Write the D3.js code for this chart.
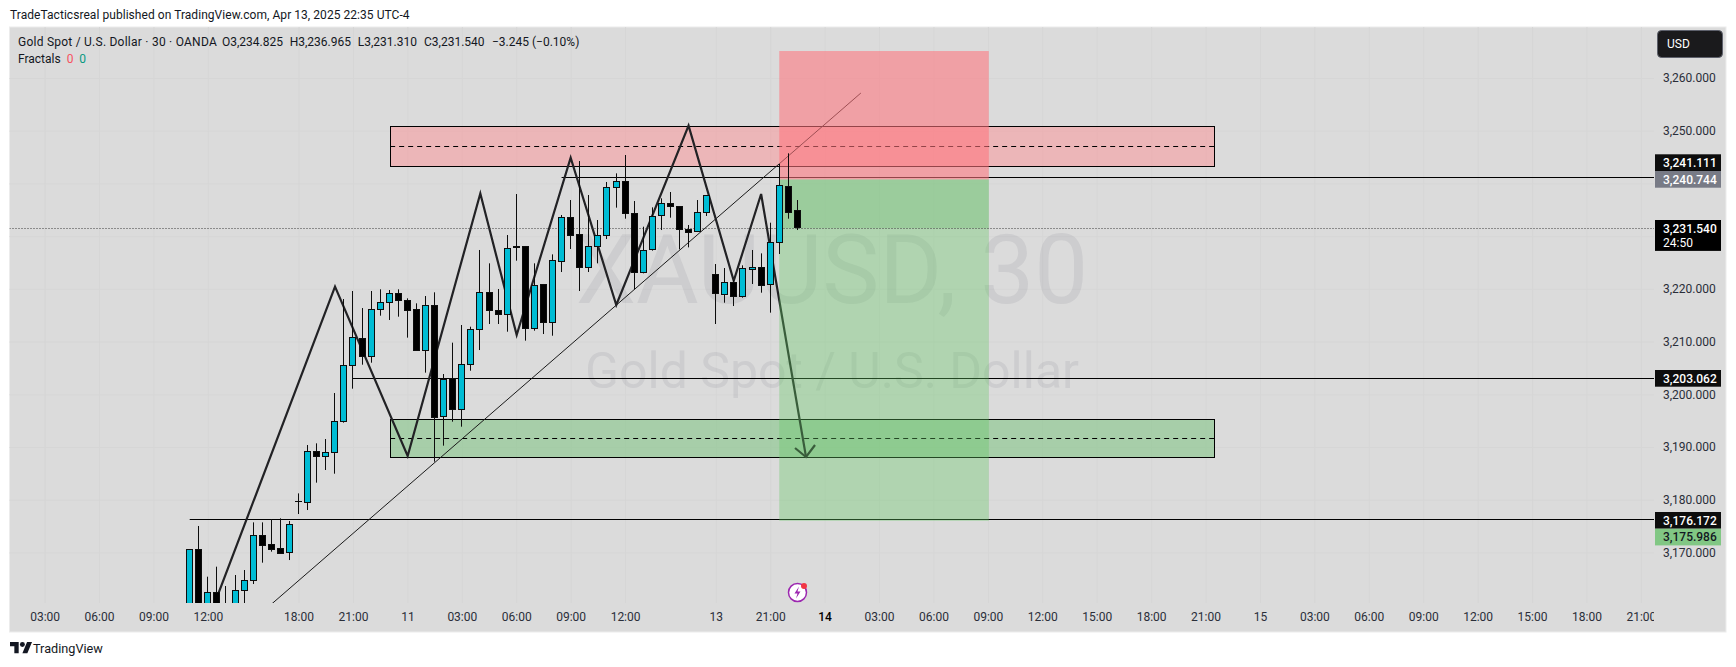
<!DOCTYPE html>
<html>
<head>
<meta charset="utf-8">
<title>XAUUSD 30</title>
<script src="https://cdn.jsdelivr.net/npm/d3@7"></script>
<style>
  html, body { margin: 0; padding: 0; background: #fff; }
  svg { display: block; }
  text { font-family: Roboto, "Open Sans", sans-serif; white-space: pre; }
</style>
</head>
<body>
<div id="chart"></div>
<script>
// candles, first one sits on bar 16 of the time scale
var firstBar = 16;
var opens = [3150,3170.64,3155,3162.42,3154,3157,3162.74,3164.70,3173.30,3171.59,3170.83,3169.95,3179.60,3179.49,3189.17,3188.22,3188.98,3194.80,3205.49,3210.61,3207.13,3216.11,3217.44,3219.15,3217.88,3216.17,3208.33,3216.93,3195.75,3203.02,3197.08,3205.68,3212.32,3219.33,3215.92,3215.16,3227.94,3227.94,3212.44,3220.73,3213.64,3225.22,3233.56,3230.34,3224.08,3228.06,3230.15,3239.26,3240.39,3234.32,3223.13,3227.49,3233.94,3236.22,3235.65,3231.35,3230.91,3234.51,3222.75,3218.96,3221.23,3218.58,3223.70,3224.08,3220.85,3228.82,3239.51,3234.77];
var highs = [3170.64,3175.01,3165.39,3167.29,3163.62,3165.71,3166.66,3175.70,3175.70,3176.33,3176.46,3175.95,3181.20,3190.37,3190.69,3191.51,3200.24,3218.07,3219.59,3216.36,3219.59,3219.91,3219.78,3219.91,3218.20,3217.25,3218.64,3219.34,3203.84,3209.79,3213.14,3212.82,3227.37,3224.84,3219.97,3230.21,3237.99,3228.13,3224.84,3220.92,3226.54,3234.01,3236.85,3244.25,3237.80,3233.06,3240.27,3241.91,3245.39,3236.66,3231.79,3235.46,3237.17,3238.37,3235.71,3232.11,3236.85,3237.74,3224.71,3223.95,3221.67,3224.46,3227.37,3226.73,3232.55,3243.68,3245.71,3236.85];
var lows = [3148,3150,3153,3154,3152,3155,3158,3164.00,3168.05,3170.14,3169.95,3168.55,3177.28,3178.04,3183.23,3185.63,3184.93,3194.61,3201.06,3205.61,3205.99,3214.91,3214.09,3214.72,3210.74,3208.46,3204.10,3187.21,3190.25,3194.80,3193.85,3204.47,3208.39,3213.33,3213.33,3211.87,3225.34,3210.17,3212.06,3211.43,3211.11,3223.19,3227.56,3219.59,3223.19,3224.84,3229.45,3235.40,3233.31,3219.90,3222.94,3227.24,3231.16,3233.50,3227.49,3227.87,3230.78,3233.82,3213.33,3217.37,3216.74,3218.32,3220.92,3219.27,3215.48,3226.61,3233.31,3231.16];
var closes = [3170.64,3152,3162.36,3156,3157,3162.74,3164.70,3173.30,3171.40,3170.64,3169.95,3175.32,3179.68,3189.17,3188.16,3188.98,3194.86,3205.49,3210.80,3207.13,3216.11,3217.44,3219.15,3217.76,3216.05,3208.46,3216.87,3195.75,3202.83,3197.08,3205.68,3212.32,3219.33,3215.86,3215.10,3227.68,3227.81,3212.44,3220.66,3213.58,3225.41,3233.56,3230.09,3224.01,3228.06,3230.15,3239.26,3240.39,3234.26,3223.07,3227.30,3233.75,3236.22,3235.59,3231.22,3230.84,3234.51,3237.74,3219.08,3221.23,3218.51,3223.89,3224.08,3220.60,3228.82,3239.63,3234.64,3231.48];

// axis ticks
var priceTicks = [3170,3180,3190,3200,3210,3220,3230,3240,3250,3260];
var priceLabelTicks = [3170,3180,3190,3200,3210,3220,3250,3260]; // 3230 and 3240 sit behind the price tags
var timeTickBars = [0,6,12,18,28,34,40,46,52,58,64,74,80,86,92,98,104,110,116,122,128,134,140,146,152,158,164,170,176];
var timeTickLabels = ["03:00","06:00","09:00","12:00","18:00","21:00","11","03:00","06:00","09:00","12:00","13","21:00","14","03:00","06:00","09:00","12:00","15:00","18:00","21:00","15","03:00","06:00","09:00","12:00","15:00","18:00","21:00"];

// price tags on the right axis
var tagValues = [3241.111,3240.744,3231.54,3203.062,3176.172,3175.986];
var tagLabels = ["3,241.111","3,240.744","3,231.540","3,203.062","3,176.172","3,175.986"];
var tagFills = ["#0d0d0d","#787b86","#000000","#0d0d0d","#0d0d0d","#81c784"];
var tagInks = ["#ffffff","#ffffff","#ffffff","#ffffff","#ffffff","#131722"];
var tagStack = [-1,0,0,0,0,1];
var countdown = "24:50";

// legend values
var legendTitle = "Gold Spot / U.S. Dollar \u00b7 30 \u00b7 OANDA";
var legendParts = ["O3,234.825","H3,236.965","L3,231.310","C3,231.540","\u22123.245 (\u22120.10%)"];

// drawings, in bar number and price
var zigzagBars = [17.21,32.02,40.03,48.04,52.05,58,63.03,71,75.98,79,83.95];
var zigzagPrices = [3153.38,3220.41,3188.29,3238.09,3211.24,3244.88,3216.93,3250.95,3221.54,3237.99,3188.1];
var trendBars = [23.75,90];
var trendPrices = [3158.3,3257.15];
var lineStartBars = [57,34,16];
var linePrices = [3241.111,3203.062,3176.172];
var zoneBars = [38.1,129];
var supplyZone = [3250.89,3247.04,3243.25];
var demandZone = [3195.25,3191.64,3188.04];
var positionBars = [81,104.1];
var positionStop = 3265.12;
var positionEntry = 3240.744;
var positionTarget = 3175.986;
var lastPrice = 3231.54;

var width = 1736, height = 667;
var pane = {left: 9.5, right: 1726, top: 27, bottom: 632};
var plotRight = 1654, plotBottom = 603;

var x = d3.scaleLinear().domain([0,176]).range([44.6,1640.9]);
var y = d3.scaleLinear().domain([3170,3260]).range([552.4,78]);

var svg = d3.select("#chart").append("svg")
    .attr("width", width)
    .attr("height", height);

svg.append("text").attr("x",10).attr("y",19)
    .attr("font-size",12).attr("letter-spacing",0.05).attr("fill","#131722")
    .text("TradeTacticsreal published on TradingView.com, Apr 13, 2025 22:35 UTC-4");

svg.append("rect")
    .attr("x",pane.left).attr("y",pane.top)
    .attr("width",pane.right-pane.left).attr("height",pane.bottom-pane.top)
    .attr("fill","#dbdbdb").attr("stroke","#ececec");

var defs = svg.append("defs");
defs.append("clipPath").attr("id","plotClip").append("rect")
    .attr("x",pane.left).attr("y",pane.top)
    .attr("width",plotRight-pane.left).attr("height",plotBottom-pane.top);
defs.append("clipPath").attr("id","timeClip").append("rect")
    .attr("x",pane.left).attr("y",plotBottom)
    .attr("width",plotRight-pane.left).attr("height",pane.bottom-plotBottom);

//grid
var gridX = svg.append("g").attr("transform","translate(0,"+plotBottom+")")
    .call(d3.axisBottom(x).tickValues(timeTickBars).tickSize(-(plotBottom-pane.top)).tickFormat(""));
var gridY = svg.append("g").attr("transform","translate("+plotRight+",0)")
    .call(d3.axisLeft(y).tickValues(priceTicks).tickSize(plotRight-pane.left).tickFormat(""));
svg.selectAll(".domain").remove();
gridX.selectAll("line").attr("stroke","#d6d6d6");
gridY.selectAll("line").attr("stroke","#d6d6d6");

//watermark
svg.append("text").attr("x",832).attr("y",303)
    .attr("text-anchor","middle").attr("font-size",96)
    .attr("font-family","'Open Sans'")
    .attr("fill","rgba(120,123,134,0.14)")
    .text("XAUUSD, 30");
svg.append("text").attr("x",832).attr("y",388)
    .attr("text-anchor","middle").attr("font-size",50)
    .attr("font-family","'Open Sans'")
    .attr("fill","rgba(120,123,134,0.14)")
    .text("Gold Spot / U.S. Dollar");

var plot = svg.append("g").attr("clip-path","url(#plotClip)");

function crisp(v){ return Math.round(v-0.5)+0.5; }

//zones
function drawZone(prices, fill){
    plot.append("rect")
        .attr("x",crisp(x(zoneBars[0]))).attr("y",crisp(y(prices[0])))
        .attr("width",Math.round(x(zoneBars[1])-x(zoneBars[0])))
        .attr("height",Math.round(y(prices[2])-y(prices[0])))
        .attr("fill",fill).attr("stroke","#000").attr("stroke-width",1);
    plot.append("line")
        .attr("x1",x(zoneBars[0])).attr("x2",x(zoneBars[1]))
        .attr("y1",crisp(y(prices[1]))).attr("y2",crisp(y(prices[1])))
        .attr("stroke","#000").attr("stroke-dasharray","5,4");
}
drawZone(supplyZone,"rgba(255,140,145,0.47)");
drawZone(demandZone,"rgba(100,190,105,0.43)");

//horizontal lines
plot.selectAll(".level").data(linePrices).enter().append("line")
    .attr("class","level")
    .attr("x1",function(d,i){ return x(lineStartBars[i]); })
    .attr("x2",plotRight)
    .attr("y1",function(d){ return crisp(y(d)); })
    .attr("y2",function(d){ return crisp(y(d)); })
    .attr("stroke","#000").attr("stroke-width",1);

//trend line
var lineGen = d3.line()
    .x(function(d){ return x(d[0]); })
    .y(function(d){ return y(d[1]); });
plot.append("path")
    .attr("d",lineGen(d3.zip(trendBars,trendPrices)))
    .attr("fill","none").attr("stroke","#1a1a1a").attr("stroke-width",1);

//zigzag with the arrow head on its last leg
var zigzag = d3.zip(zigzagBars,zigzagPrices);
plot.append("path")
    .attr("d",lineGen(zigzag))
    .attr("fill","none").attr("stroke","#222225").attr("stroke-width",2.2)
    .attr("stroke-linejoin","miter");
var tip = zigzag[zigzag.length-1];
var tipX = x(tip[0]), tipY = y(tip[1]);
plot.append("path")
    .attr("d","M"+(tipX-11)+","+(tipY-9)+"L"+tipX+","+tipY+"L"+(tipX+9)+","+(tipY-12))
    .attr("fill","none").attr("stroke","#222225").attr("stroke-width",2.2);

//short position box, the darker green runs from entry to the last price
function positionRect(top, bottom, fill){
    plot.append("rect")
        .attr("x",x(positionBars[0])).attr("y",y(top))
        .attr("width",x(positionBars[1])-x(positionBars[0]))
        .attr("height",y(bottom)-y(top))
        .attr("fill",fill);
}
positionRect(positionStop,positionEntry,"rgba(255,117,125,0.58)");
positionRect(positionEntry,positionTarget,"rgba(100,200,100,0.36)");
positionRect(positionEntry,lastPrice,"rgba(76,175,80,0.2)");

//last price
plot.append("line")
    .attr("x1",pane.left).attr("x2",plotRight)
    .attr("y1",crisp(y(lastPrice))).attr("y2",crisp(y(lastPrice)))
    .attr("stroke","#3a3a3a").attr("stroke-dasharray","1,2");

//candles
var bars = opens.map(function(o,i){
    return {bar:firstBar+i, open:o, high:highs[i], low:lows[i], close:closes[i]};
});
var candle = plot.selectAll(".candle").data(bars).enter().append("g").attr("class","candle");
candle.append("line")
    .attr("x1",function(d){ return crisp(x(d.bar)); })
    .attr("x2",function(d){ return crisp(x(d.bar)); })
    .attr("y1",function(d){ return y(d.high); })
    .attr("y2",function(d){ return y(d.low); })
    .attr("stroke","#0d0d0d").attr("stroke-width",1);
candle.append("rect")
    .attr("x",function(d){ return crisp(x(d.bar))-3; })
    .attr("width",6)
    .attr("y",function(d){ return crisp(y(Math.max(d.open,d.close))); })
    .attr("height",function(d){
        return Math.max(0.01,Math.round(y(Math.min(d.open,d.close))-y(Math.max(d.open,d.close))));
    })
    .attr("fill",function(d){ return d.close>=d.open ? "#00bcd4" : "#000"; })
    .attr("stroke","#0d0d0d").attr("stroke-width",1);

//earnings style marker above the time scale
var marker = svg.append("g").attr("transform","translate("+x(83.01)+",592.5)");
marker.append("circle").attr("r",9).attr("fill","#fff").attr("stroke","#9c27b0").attr("stroke-width",1.5);
marker.append("path").attr("d","M1.5,-6L-3,1H0L-1.5,6L3,-1H0Z").attr("fill","#9c27b0");
marker.append("circle").attr("cx",6.5).attr("cy",-6.5).attr("r",3).attr("fill","#f23645");

//time axis
var timeAxis = svg.append("g").attr("clip-path","url(#timeClip)").append("g")
    .attr("transform","translate(0,"+plotBottom+")")
    .call(d3.axisBottom(x).tickValues(timeTickBars).tickSize(0).tickPadding(9)
        .tickFormat(function(d,i){ return timeTickLabels[i]; }));
timeAxis.select(".domain").remove();
timeAxis.selectAll("text")
    .attr("font-family","Roboto").attr("font-size",12)
    .attr("fill",function(d,i){ return timeTickLabels[i]==="14" ? "#000" : "#2a2e39"; })
    .attr("font-weight",function(d,i){ return timeTickLabels[i]==="14" ? 500 : 400; });

//price axis
var priceAxis = svg.append("g").attr("transform","translate("+plotRight+",0)")
    .call(d3.axisRight(y).tickValues(priceLabelTicks).tickSize(0).tickPadding(9)
        .tickFormat(d3.format(",.3f")));
priceAxis.select(".domain").remove();
priceAxis.selectAll("text")
    .attr("font-family","Roboto").attr("font-size",12).attr("fill","#2a2e39");

//price tags
var tagH = 16.7;
function tagTop(d,i){
    if(tagStack[i]<0) return tagTop(tagValues[i+1],i+1)-tagH;
    if(tagStack[i]>0) return tagTop(tagValues[i-1],i-1)+tagH;
    return Math.round(y(d)-tagH/2);
}
var tag = svg.selectAll(".tag").data(tagValues).enter().append("g").attr("class","tag");
tag.append("rect")
    .attr("x",1655).attr("width",66)
    .attr("y",tagTop)
    .attr("height",function(d){ return d===lastPrice ? tagH*1.85 : tagH; })
    .attr("fill",function(d,i){ return tagFills[i]; });
tag.append("text")
    .attr("x",1663)
    .attr("y",function(d,i){ return tagTop(d,i)+12.5; })
    .attr("font-size",12).attr("font-weight",500)
    .attr("fill",function(d,i){ return tagInks[i]; })
    .text(function(d,i){ return tagLabels[i]; });
svg.append("text")
    .attr("x",1663).attr("y",Math.round(y(lastPrice)-tagH/2)+26.5)
    .attr("font-size",12).attr("fill","#fff").text(countdown);

//currency button
svg.append("rect").attr("x",1657.5).attr("y",30.5).attr("width",65).attr("height",27).attr("rx",4)
    .attr("fill","#1a1a1c").attr("stroke","#5d606b");
svg.append("text").attr("x",1667).attr("y",48).attr("font-size",12)
    .attr("fill","#fff").text("USD");

//legend
var legendX = d3.scaleLinear().domain([0,1,2,3,4]).range([222,289.7,357.7,424,492]);
svg.append("text").attr("x",18).attr("y",46).attr("font-size",12)
    .attr("letter-spacing",0.24).attr("fill","#131722").text(legendTitle);
svg.selectAll(".legendPart").data(legendParts).enter().append("text")
    .attr("class","legendPart")
    .attr("x",function(d,i){ return legendX(i); })
    .attr("y",46).attr("font-size",12).attr("fill","#131722")
    .text(function(d){ return d; });
var fractals = svg.append("text").attr("x",18).attr("y",63).attr("font-size",12).attr("fill","#131722");
fractals.append("tspan").text("Fractals  ");
fractals.append("tspan").attr("fill","#f7525f").text("0");
fractals.append("tspan").text("  ");
fractals.append("tspan").attr("fill","#089981").text("0");

//logo
var logo = svg.append("g").attr("transform","translate(10,639.5) scale(0.62)");
logo.append("path").attr("d","M14 22H7V11H0V4h14v18zM28 22h-8l7.5-18h8L28 22z").attr("fill","#131722");
logo.append("circle").attr("cx",20).attr("cy",8).attr("r",4).attr("fill","#131722");
svg.append("text").attr("x",33).attr("y",652.5).attr("font-size",12.7).attr("fill","#131722").text("TradingView");
</script>
</body>
</html>
